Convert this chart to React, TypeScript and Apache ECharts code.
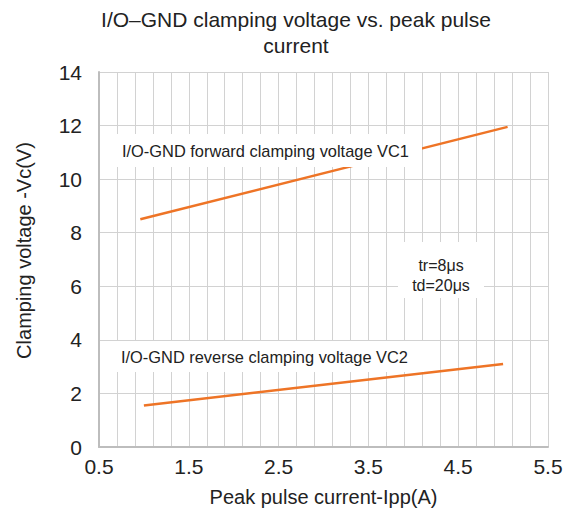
import React, { useEffect, useRef } from "react";
import * as echarts from "echarts";

const titleText = "I/O\u2013GND clamping voltage vs. peak pulse\ncurrent";
const xAxisName = "Peak pulse current-Ipp(A)";
const yAxisName = "Clamping voltage -Vc(V)";

const vc1Name = "I/O-GND forward clamping voltage VC1";
const vc1X = [0.96, 5.05];
const vc1Y = [8.5, 11.95];

const vc2Name = "I/O-GND reverse clamping voltage VC2";
const vc2X = [1.0, 5.0];
const vc2Y = [1.55, 3.1];

const condText = "tr=8\u03bcs\ntd=20\u03bcs";

const FONT = "Liberation Sans, Arial, Helvetica, sans-serif";

export default function App() {
  const ref = useRef<HTMLDivElement>(null);
  useEffect(() => {
    if (!ref.current) return;
    document.body.style.margin = "0";
    const chart = echarts.init(ref.current, undefined, { renderer: "svg" });
    const orange = "#ee7426";
    chart.setOption({
      animation: false,
      backgroundColor: "#ffffff",
      title: {
        text: titleText,
        left: 296,
        top: 6,
        padding: 0,
        textAlign: "center",
        textStyle: {
          fontFamily: FONT,
          fontSize: 21,
          fontWeight: "normal",
          color: "#222",
          lineHeight: 26,
        },
      },
      grid: { left: 99, right: 24, top: 72, bottom: 71, containLabel: false },
      xAxis: {
        type: "value",
        min: 0.5,
        max: 5.5,
        interval: 1,
        name: xAxisName,
        nameLocation: "middle",
        nameGap: 40,
        nameTextStyle: { fontFamily: FONT, fontSize: 20, color: "#222" },
        axisLine: { show: true, lineStyle: { color: "#bdbdbd", width: 2 } },
        axisTick: { show: false },
        axisLabel: {
          fontFamily: FONT,
          fontSize: 21,
          color: "#222",
          margin: 9,
          formatter: (v: number) => v.toFixed(1),
        },
        splitLine: { show: true, lineStyle: { color: "#d2d2d2", width: 1 } },
        minorTick: { show: false, splitNumber: 5 },
        minorSplitLine: { show: true, lineStyle: { color: "#d2d2d2", width: 1 } },
      },
      yAxis: {
        type: "value",
        min: 0,
        max: 14,
        interval: 2,
        name: yAxisName,
        nameLocation: "middle",
        nameGap: 65,
        nameTextStyle: { fontFamily: FONT, fontSize: 20, color: "#222", padding: [0, 0, 0, 18] },
        axisLine: { show: true, lineStyle: { color: "#bdbdbd", width: 2 } },
        axisTick: { show: false },
        axisLabel: { fontFamily: FONT, fontSize: 21, color: "#222", margin: 17 },
        splitLine: { show: true, lineStyle: { color: "#d2d2d2", width: 1 } },
      },
      series: [
        {
          name: vc1Name,
          type: "line",
          data: vc1X.map((x, i) => [x, vc1Y[i]]),
          showSymbol: false,
          symbol: "none",
          lineStyle: { color: orange, width: 2.5 },
          z: 3,
        },
        {
          name: vc2Name,
          type: "line",
          data: vc2X.map((x, i) => [x, vc2Y[i]]),
          showSymbol: false,
          symbol: "none",
          lineStyle: { color: orange, width: 2.5 },
          z: 3,
        },
      ],
      graphic: [
        {
          type: "rect",
          z: 100,
          shape: { x: 103, y: 134, width: 319, height: 33 },
          style: { fill: "#ffffff" },
        },
        {
          type: "text",
          z: 101,
          x: 122,
          y: 151,
          style: {
            text: vc1Name,
            font: `16.4px ${FONT}`,
            fill: "#222",
            verticalAlign: "middle",
            align: "left",
          },
        },
        {
          type: "rect",
          z: 100,
          shape: { x: 104, y: 341, width: 320, height: 31 },
          style: { fill: "#ffffff" },
        },
        {
          type: "text",
          z: 101,
          x: 121,
          y: 357,
          style: {
            text: vc2Name,
            font: `16.4px ${FONT}`,
            fill: "#222",
            verticalAlign: "middle",
            align: "left",
          },
        },
        {
          type: "rect",
          z: 100,
          shape: { x: 398, y: 242, width: 86, height: 56 },
          style: { fill: "#ffffff" },
        },
        {
          type: "text",
          z: 101,
          x: 441,
          y: 275,
          style: {
            text: condText,
            font: `16px ${FONT}`,
            fill: "#222",
            lineHeight: 20,
            verticalAlign: "middle",
            align: "center",
          },
        },
      ],
    });
    return () => chart.dispose();
  }, []);
  return <div ref={ref} style={{ width: 572, height: 518 }} />;
}
